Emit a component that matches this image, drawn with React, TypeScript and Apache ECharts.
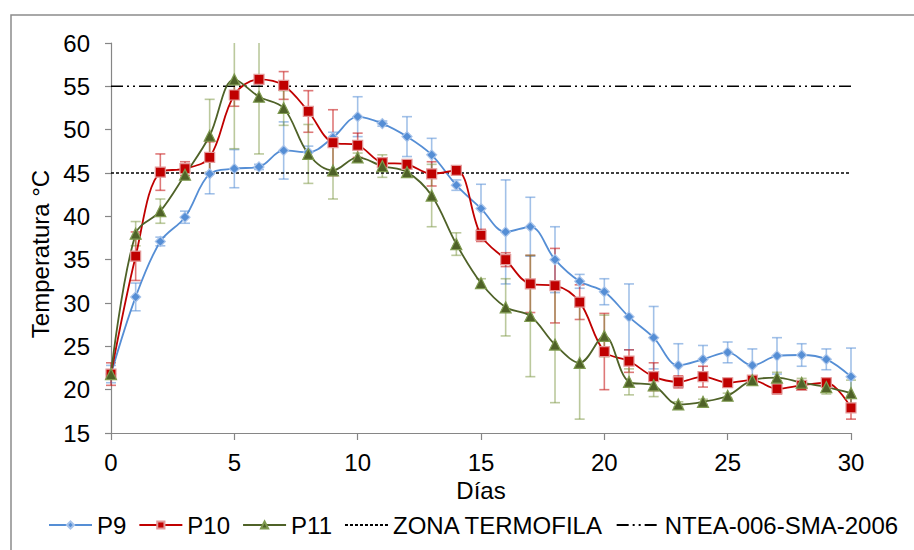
import React, { useEffect, useRef } from "react";
import * as echarts from "echarts";

const days = [0, 1, 2, 3, 4, 5, 6, 7, 8, 9, 10, 11, 12, 13, 14, 15, 16, 17, 18, 19, 20, 21, 22, 23, 24, 25, 26, 27, 28, 29, 30];

const p9 = [21.8, 30.7, 37.1, 39.9, 44.9, 45.5, 45.7, 47.6, 47.4, 49.1, 51.5, 50.7, 49.2, 47.1, 43.6, 40.9, 38.2, 38.8, 35.0, 32.5, 31.3, 28.4, 26.0, 22.8, 23.5, 24.3, 22.8, 23.9, 24.0, 23.5, 21.5];
const p9Err = [1.0, 1.6, 0.5, 0.7, 2.3, 2.2, 0.3, 3.3, 0.7, 0.6, 2.3, 0.3, 2.3, 1.9, 0.6, 2.8, 6.0, 3.4, 3.8, 0.8, 1.5, 3.8, 3.6, 2.5, 1.6, 1.2, 1.9, 2.1, 1.3, 1.2, 3.3];

const p10 = [21.8, 35.4, 45.1, 45.5, 46.8, 54.0, 55.8, 55.1, 52.1, 48.5, 48.2, 46.2, 46.0, 44.9, 45.3, 37.8, 35.0, 32.2, 32.0, 30.1, 24.4, 23.3, 21.5, 20.9, 21.5, 20.8, 21.1, 20.1, 20.5, 20.8, 17.9];
const p10Err = [1.3, 2.8, 2.1, 0.8, 1.8, 1.3, 0.3, 1.6, 2.4, 3.8, 1.4, 0.5, 0.5, 1.4, 0.3, 0.7, 0.8, 3.3, 4.3, 2.0, 4.4, 1.3, 1.6, 0.7, 1.2, 0.3, 0.5, 0.6, 0.3, 0.5, 1.3];

const p11 = [21.8, 38.0, 40.6, 44.8, 49.3, 55.8, 53.8, 52.5, 47.2, 45.3, 46.8, 45.8, 45.1, 42.4, 36.8, 32.3, 29.5, 28.5, 25.2, 23.1, 26.2, 20.9, 20.5, 18.3, 18.6, 19.3, 21.1, 21.4, 20.8, 20.3, 19.6];
const p11Err = [0.5, 1.4, 1.4, 0.4, 4.2, 8.0, 6.6, 2.0, 3.4, 3.3, 0.5, 1.3, 0.4, 3.6, 1.3, 0.5, 3.3, 7.0, 6.7, 6.5, 2.4, 1.5, 1.3, 0.3, 0.3, 0.3, 0.4, 0.6, 0.5, 0.8, 1.5];

const zonaTermofila = 45;
const ntea = 55;

const seriesNames = ["P9", "P10", "P11", "ZONA TERMOFILA", "NTEA-006-SMA-2006"];
const yTicks = { min: 15, max: 60, interval: 5 };
const xTicks = { min: 0, max: 30, interval: 5 };

const FONT = "'Liberation Sans', Arial, sans-serif";

function errSeries(name: string, vals: number[], errs: number[], color: string) {
  const data = days.map((d, i) => [d, vals[i] - errs[i], vals[i] + errs[i]]);
  return {
    type: "custom",
    name,
    z: 1,
    silent: true,
    data,
    renderItem: (params: any, api: any) => {
      const x = api.value(0);
      let lo = api.value(1);
      let hi = api.value(2);
      const hiClip = hi > yTicks.max;
      const loClip = lo < yTicks.min;
      hi = Math.min(hi, yTicks.max);
      lo = Math.max(lo, yTicks.min);
      const pHi = api.coord([x, hi]);
      const pLo = api.coord([x, lo]);
      const cap = 5;
      const style = { stroke: color, lineWidth: 1.6 };
      const children: any[] = [
        { type: "line", shape: { x1: pHi[0], y1: pHi[1], x2: pLo[0], y2: pLo[1] }, style },
      ];
      if (!hiClip)
        children.push({ type: "line", shape: { x1: pHi[0] - cap, y1: pHi[1], x2: pHi[0] + cap, y2: pHi[1] }, style });
      if (!loClip)
        children.push({ type: "line", shape: { x1: pLo[0] - cap, y1: pLo[1], x2: pLo[0] + cap, y2: pLo[1] }, style });
      return { type: "group", children };
    },
  };
}

function lineSeries(name: string, vals: number[], color: string, symbol: string, size: number, border: string) {
  return {
    type: "line",
    name,
    z: 3,
    smooth: 0.35,
    data: days.map((d, i) => [d, vals[i]]),
    symbol,
    symbolSize: size,
    lineStyle: { color, width: 1.8 },
    itemStyle: { color, borderColor: border, borderWidth: 1.2 },
  };
}

export default function App() {
  const ref = useRef<HTMLDivElement>(null);
  useEffect(() => {
    const chart = echarts.init(ref.current!, undefined, { renderer: "svg" });
    chart.setOption({
      animation: false,
      backgroundColor: "#ffffff",
      textStyle: { fontFamily: FONT },
      grid: { left: 111, top: 43, right: 63, bottom: 117 },
      xAxis: {
        type: "value",
        min: xTicks.min,
        max: xTicks.max,
        interval: xTicks.interval,
        name: "Días",
        nameLocation: "middle",
        nameGap: 43,
        nameTextStyle: { fontSize: 24, color: "#000", fontFamily: FONT },
        axisLine: { lineStyle: { color: "#868686", width: 1.2 } },
        axisTick: { show: true, length: 7, inside: false, lineStyle: { color: "#868686", width: 1.2 } },
        axisLabel: { fontSize: 24, color: "#000", margin: 17, fontFamily: FONT },
        splitLine: { show: false },
      },
      yAxis: {
        type: "value",
        min: yTicks.min,
        max: yTicks.max,
        interval: yTicks.interval,
        axisLine: { show: true, lineStyle: { color: "#868686", width: 1.2 } },
        axisTick: { show: true, length: 6, inside: false, lineStyle: { color: "#868686", width: 1.2 } },
        axisLabel: { fontSize: 24, color: "#000", margin: 21, fontFamily: FONT },
        splitLine: { show: false },
      },
      legend: {
        data: seriesNames.map((n, i) =>
          i >= 3 ? { name: n, itemStyle: { opacity: 0 } } : { name: n }
        ),
        left: 43,
        top: 508,
        itemWidth: 43,
        itemHeight: 9,
        itemGap: 12,
        textStyle: { fontSize: 24, color: "#000", fontFamily: FONT },
        selectedMode: false,
      },
      graphic: [
        {
          type: "rect",
          shape: { x: 11, y: 15, width: 1200, height: 1000 },
          style: { fill: "none", stroke: "#8c8c8c", lineWidth: 1.5 },
          z: -1,
        },
        {
          type: "text",
          x: 40,
          y: 254,
          rotation: Math.PI / 2,
          style: {
            text: "Temperatura °C",
            fontSize: 24,
            fontFamily: FONT,
            fill: "#000",
            textAlign: "center",
            textVerticalAlign: "middle",
          },
        },
      ],
      series: [
        errSeries("P9 err", p9, p9Err, "rgba(85,142,213,0.55)"),
        errSeries("P10 err", p10, p10Err, "rgba(200,30,30,0.6)"),
        errSeries("P11 err", p11, p11Err, "rgba(119,147,60,0.5)"),
        lineSeries("P9", p9, "#558ed5", "diamond", 10, "#a9c4ea"),
        lineSeries("P10", p10, "#c00000", "rect", 10, "#e39a9a"),
        lineSeries("P11", p11, "#4f6228", "triangle", 11, "#7f9a50"),
        {
          type: "line",
          name: "ZONA TERMOFILA",
          z: 2,
          data: [[xTicks.min, zonaTermofila], [xTicks.max, zonaTermofila]],
          symbol: "none",
          lineStyle: { color: "#000", width: 1.5, type: [3, 2] },
          itemStyle: { color: "#000" },
        },
        {
          type: "line",
          name: "NTEA-006-SMA-2006",
          z: 2,
          data: [[xTicks.min, ntea], [xTicks.max, ntea]],
          symbol: "none",
          lineStyle: { color: "#000", width: 1.5, type: [12, 4, 2, 4, 2, 4] },
          itemStyle: { color: "#000" },
        },
      ],
    });
    return () => chart.dispose();
  }, []);
  return (
    <div
      ref={ref}
      style={{ position: "absolute", left: 0, top: 0, width: 914, height: 550 }}
    />
  );
}
